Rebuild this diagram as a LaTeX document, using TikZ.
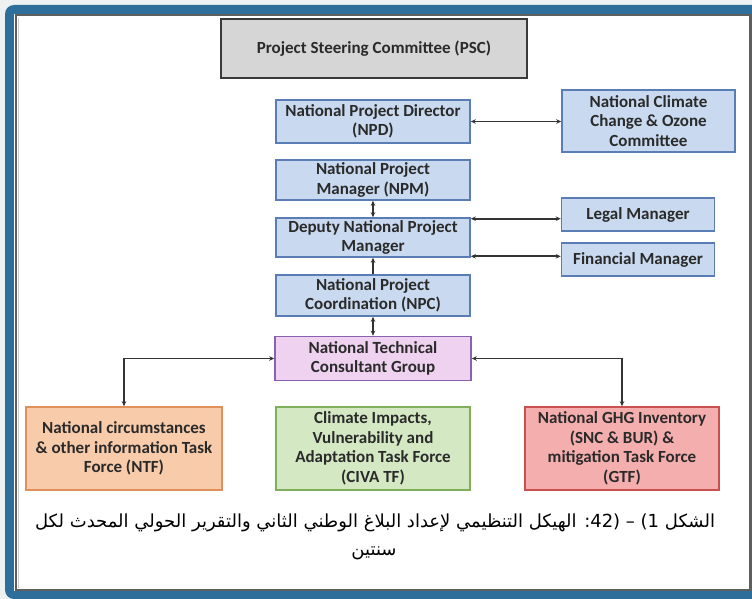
\documentclass[tikz,border=0pt]{standalone}
\usepackage{fontspec}
\setmainfont{Carlito}
\newfontfamily\arabicfont[Script=Arabic]{DejaVu Sans}
\TeXXeTstate=1
\usetikzlibrary{arrows.meta,calc}
\definecolor{pagebg}{HTML}{EEF1F1}
\definecolor{frameblue}{HTML}{2E6E9B}
\definecolor{innerline}{HTML}{5E5E5E}
\definecolor{txt}{HTML}{2A2A2A}
\definecolor{bluefill}{HTML}{C9DAF0}
\definecolor{blueline}{HTML}{5A7DB5}
\definecolor{grayfill}{HTML}{D6D6D6}
\definecolor{grayline}{HTML}{3A3A3A}
\definecolor{pinkfill}{HTML}{EED2F0}
\definecolor{pinkline}{HTML}{8A60B0}
\definecolor{orangefill}{HTML}{F8CBAA}
\definecolor{orangeline}{HTML}{E0905A}
\definecolor{greenfill}{HTML}{D5E8C4}
\definecolor{greenline}{HTML}{7FAF5A}
\definecolor{redfill}{HTML}{F5AEAE}
\definecolor{redline}{HTML}{C8504F}
\definecolor{conn}{HTML}{333333}
\tikzset{
  x=1pt, y=-1pt,
  box/.style={draw, line width=1.6pt, inner sep=0pt, align=center, text=txt,
    font=\fontsize{17}{19.5}\selectfont\bfseries},
  bluebox/.style={box, fill=bluefill, draw=blueline},
  link/.style={draw=conn, line width=1.7pt},
  dbl/.style={link, {Stealth[length=5pt,width=4.5pt]}-{Stealth[length=5pt,width=4.5pt]}},
  single/.style={link, -{Stealth[length=5pt,width=4.5pt]}},
  captext/.style={text=black, font=\arabicfont\fontsize{18}{22}\selectfont, inner sep=0pt},
}
\begin{document}
\begin{tikzpicture}
\useasboundingbox (0,0) rectangle (752,599);
\fill[pagebg] (0,0) rectangle (752,599);
\fill[frameblue, rounded corners=9pt] (5,5) rectangle (775,599);
\fill[white] (14,14) rectangle (751,591);
\draw[innerline, line width=2pt] (15.5,15.5) rectangle (750,590);
\draw[gray!40, line width=1pt] (18,18) -- (18,588);

% nodes
\node[box, fill=grayfill, draw=grayline, line width=2pt, minimum width=306pt, minimum height=59pt] (psc) at (374,48.5) {Project Steering Committee (PSC)};
\node[bluebox, minimum width=194pt, minimum height=43pt] (npd) at (373,121.5) {National Project Director\\(NPD)};
\node[bluebox, minimum width=173pt, minimum height=62pt] (ncc) at (648.5,121) {National Climate\\Change \& Ozone\\Committee};
\node[bluebox, minimum width=194pt, minimum height=40pt] (npm) at (373,180) {National Project\\Manager (NPM)};
\node[bluebox, minimum width=194pt, minimum height=39pt] (dep) at (373,237.5) {Deputy National Project\\Manager};
\node[bluebox, minimum width=153pt, minimum height=33pt] (legal) at (638,214.5) {Legal Manager};
\node[bluebox, minimum width=153pt, minimum height=33pt] (fin) at (638,259.5) {Financial Manager};
\node[bluebox, minimum width=194pt, minimum height=41pt] (npc) at (373,295.5) {National Project\\Coordination (NPC)};
\node[box, fill=pinkfill, draw=pinkline, minimum width=196pt, minimum height=44pt] (ntcg) at (373,358.5) {National Technical\\Consultant Group};
\node[box, fill=orangefill, draw=orangeline, minimum width=196pt, minimum height=83pt] (ntf) at (124,448.5) {National circumstances\\\& other information Task\\Force (NTF)};
\node[box, fill=greenfill, draw=greenline, minimum width=194pt, minimum height=83pt] (civa) at (373,448.5) {Climate Impacts,\\Vulnerability and\\Adaptation Task Force\\(CIVA TF)};
\node[box, fill=redfill, draw=redline, minimum width=194pt, minimum height=83pt] (gtf) at (622,448.5) {National GHG Inventory\\(SNC \& BUR) \&\\mitigation Task Force\\(GTF)};

% connectors
\draw[dbl] (npd.east) -- (npd.east -| ncc.west);
\draw[dbl] (npm.south) -- (dep.north);
\draw[dbl] ([yshift=-1.5pt]dep.north east) -- ([yshift=-1.5pt]dep.north east -| legal.west);
\draw[dbl] ([yshift=1.5pt]dep.south east) -- ([yshift=1.5pt]dep.south east -| fin.west);
\draw[single] (npc.north) -- (dep.south);
\draw[dbl] (npc.south) -- (ntcg.north);
\draw[dbl] (ntcg.west) -| (ntf.north);
\draw[dbl] (ntcg.east) -| (gtf.north);

% caption
\node[captext] (cap1) at (375,523)
  {\beginR الشكل \beginL(42 – 1)\endL: الهيكل التنظيمي لإعداد البلاغ الوطني الثاني والتقرير الحولي المحدث لكل\endR};
\node[captext] (cap2) at (374,553) {\beginR سنتين\endR};
\end{tikzpicture}
\end{document}
